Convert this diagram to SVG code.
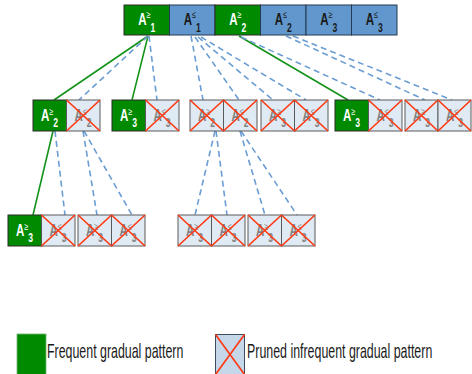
<svg xmlns="http://www.w3.org/2000/svg" width="472" height="374" viewBox="0 0 472 374">
<style>
.g{fill:#008a00;stroke:#2a2a2a;stroke-width:1}
.b{fill:#6197cc;stroke:#243a55;stroke-width:1}
.p{fill:#dfeaf4;stroke:#5a5a5a;stroke-width:1}
.x{stroke:#ff3b14;stroke-width:1.7;fill:none}
.lb{font-family:"Liberation Sans",Arial,sans-serif;font-weight:bold;font-size:16px;text-anchor:middle}
.sup{font-size:10px;font-weight:normal}
.sub{font-size:12px}
.w{fill:#ffffff}
.k{fill:#1a1a1a}
.q{fill:#828282}
.cg{stroke:#13931a;stroke-width:1.6;fill:none}
.cd{stroke:#6a9dd3;stroke-width:1.6;fill:none;stroke-dasharray:6 4}
.leg{font-family:"Liberation Sans",Arial,sans-serif;font-size:20px;fill:#1a1a1a}
</style>

<g id="connectors">
<line class="cg" x1="148" y1="36" x2="54" y2="100"/>
<line class="cg" x1="148" y1="36" x2="132" y2="100"/>
<line class="cg" x1="239" y1="36" x2="348" y2="100"/>
<line class="cg" x1="53" y1="131" x2="33" y2="215"/>
<line class="cd" x1="148" y1="36" x2="79" y2="100"/>
<line class="cd" x1="149" y1="36" x2="157" y2="100"/>
<line class="cd" x1="191" y1="36" x2="203" y2="100"/>
<line class="cd" x1="195" y1="37" x2="239" y2="100"/>
<line class="cd" x1="198" y1="37" x2="273" y2="100"/>
<line class="cd" x1="201" y1="37" x2="306" y2="100"/>
<line class="cd" x1="241" y1="37" x2="380" y2="100"/>
<line class="cd" x1="286" y1="36" x2="425" y2="100"/>
<line class="cd" x1="293" y1="36" x2="452" y2="100"/>
<line class="cd" x1="55" y1="131" x2="65" y2="215"/>
<line class="cd" x1="83" y1="131" x2="97" y2="215"/>
<line class="cd" x1="84" y1="131" x2="132" y2="215"/>
<line class="cd" x1="215" y1="131" x2="195" y2="215"/>
<line class="cd" x1="216" y1="131" x2="227" y2="215"/>
<line class="cd" x1="240" y1="131" x2="265" y2="215"/>
<line class="cd" x1="241" y1="131" x2="297" y2="215"/>
</g>

<!-- Top row -->
<g id="t1"><rect class="g" x="124" y="5" width="45.5" height="30"/><text class="lb w" transform="translate(146.8,5) scale(0.72,1)" y="20">A<tspan class="sup" dy="-6.5">≥</tspan><tspan class="sub" dy="13.5" font-size="13">1</tspan></text></g>
<g id="t2"><rect class="b" x="169.5" y="5" width="45.5" height="30"/><text class="lb k" transform="translate(192.3,5) scale(0.72,1)" y="20">A<tspan class="sup" dy="-6.5">≤</tspan><tspan class="sub" dy="13.5" font-size="13">1</tspan></text></g>
<g id="t3"><rect class="g" x="215" y="5" width="45.5" height="30"/><text class="lb w" transform="translate(237.8,5) scale(0.72,1)" y="20">A<tspan class="sup" dy="-6.5">≥</tspan><tspan class="sub" dy="13.5" font-size="13">2</tspan></text></g>
<g id="t4"><rect class="b" x="260.5" y="5" width="45.5" height="30"/><text class="lb k" transform="translate(283.3,5) scale(0.72,1)" y="20">A<tspan class="sup" dy="-6.5">≤</tspan><tspan class="sub" dy="13.5" font-size="13">2</tspan></text></g>
<g id="t5"><rect class="b" x="306" y="5" width="45.5" height="30"/><text class="lb k" transform="translate(328.8,5) scale(0.72,1)" y="20">A<tspan class="sup" dy="-6.5">≥</tspan><tspan class="sub" dy="13.5" font-size="13">3</tspan></text></g>
<g id="t6"><rect class="b" x="351.5" y="5" width="45.5" height="30"/><text class="lb k" transform="translate(374.3,5) scale(0.72,1)" y="20">A<tspan class="sup" dy="-6.5">≤</tspan><tspan class="sub" dy="13.5" font-size="13">3</tspan></text></g>

<!-- Level 2 -->
<g id="n2a"><rect class="g" x="33" y="100" width="33.5" height="31"/><text class="lb w" transform="translate(49.5,100) scale(0.72,1)" y="21.5">A<tspan class="sup" dy="-6.5">≥</tspan><tspan class="sub" dy="12.5">2</tspan></text></g>
<g id="n2b"><rect class="p" x="66.5" y="100" width="33.5" height="31"/><text class="lb q" transform="translate(83,100) scale(0.72,1)" y="21.5">A<tspan class="sup" dy="-6.5">≤</tspan><tspan class="sub" dy="12.5">2</tspan></text><path class="x" d="M66.5,100L100,131M100,100L66.5,131"/></g>
<g id="n2c"><rect class="g" x="112" y="100" width="33.5" height="31"/><text class="lb w" transform="translate(128.5,100) scale(0.72,1)" y="21.5">A<tspan class="sup" dy="-6.5">≥</tspan><tspan class="sub" dy="12.5">3</tspan></text></g>
<g id="n2d"><rect class="p" x="145.5" y="100" width="33.5" height="31"/><text class="lb q" transform="translate(162,100) scale(0.72,1)" y="21.5">A<tspan class="sup" dy="-6.5">≤</tspan><tspan class="sub" dy="12.5">3</tspan></text><path class="x" d="M145.5,100L179,131M179,100L145.5,131"/></g>
<g id="n2e"><rect class="p" x="190" y="100" width="33.5" height="31"/><text class="lb q" transform="translate(206.5,100) scale(0.72,1)" y="21.5">A<tspan class="sup" dy="-6.5">≥</tspan><tspan class="sub" dy="12.5">2</tspan></text><path class="x" d="M190,100L223.5,131M223.5,100L190,131"/></g>
<g id="n2f"><rect class="p" x="223.5" y="100" width="33.5" height="31"/><text class="lb q" transform="translate(240,100) scale(0.72,1)" y="21.5">A<tspan class="sup" dy="-6.5">≤</tspan><tspan class="sub" dy="12.5">2</tspan></text><path class="x" d="M223.5,100L257,131M257,100L223.5,131"/></g>
<g id="n2g"><rect class="p" x="261" y="100" width="33.5" height="31"/><text class="lb q" transform="translate(277.5,100) scale(0.72,1)" y="21.5">A<tspan class="sup" dy="-6.5">≥</tspan><tspan class="sub" dy="12.5">3</tspan></text><path class="x" d="M261,100L294.5,131M294.5,100L261,131"/></g>
<g id="n2h"><rect class="p" x="294.5" y="100" width="33.5" height="31"/><text class="lb q" transform="translate(311,100) scale(0.72,1)" y="21.5">A<tspan class="sup" dy="-6.5">≤</tspan><tspan class="sub" dy="12.5">3</tspan></text><path class="x" d="M294.5,100L328,131M328,100L294.5,131"/></g>
<g id="n2i"><rect class="g" x="335" y="100" width="33.5" height="31"/><text class="lb w" transform="translate(351.5,100) scale(0.72,1)" y="21.5">A<tspan class="sup" dy="-6.5">≥</tspan><tspan class="sub" dy="12.5">3</tspan></text></g>
<g id="n2j"><rect class="p" x="368.5" y="100" width="33.5" height="31"/><text class="lb q" transform="translate(385,100) scale(0.72,1)" y="21.5">A<tspan class="sup" dy="-6.5">≤</tspan><tspan class="sub" dy="12.5">3</tspan></text><path class="x" d="M368.5,100L402,131M402,100L368.5,131"/></g>
<g id="n2k"><rect class="p" x="405" y="100" width="33" height="31"/><text class="lb q" transform="translate(421.5,100) scale(0.72,1)" y="21.5">A<tspan class="sup" dy="-6.5">≥</tspan><tspan class="sub" dy="12.5">3</tspan></text><path class="x" d="M405,100L438,131M438,100L405,131"/></g>
<g id="n2l"><rect class="p" x="438" y="100" width="33" height="31"/><text class="lb q" transform="translate(454.5,100) scale(0.72,1)" y="21.5">A<tspan class="sup" dy="-6.5">≤</tspan><tspan class="sub" dy="12.5">3</tspan></text><path class="x" d="M438,100L471,131M471,100L438,131"/></g>

<!-- Level 3 -->
<g id="n3a"><rect class="g" x="8" y="215" width="33.5" height="31"/><text class="lb w" transform="translate(24.5,215) scale(0.72,1)" y="21.5">A<tspan class="sup" dy="-6.5">≥</tspan><tspan class="sub" dy="12.5">3</tspan></text></g>
<g id="n3b"><rect class="p" x="41.5" y="215" width="33.5" height="31"/><text class="lb q" transform="translate(58,215) scale(0.72,1)" y="21.5">A<tspan class="sup" dy="-6.5">≤</tspan><tspan class="sub" dy="12.5">3</tspan></text><path class="x" d="M41.5,215L75,246M75,215L41.5,246"/></g>
<g id="n3c"><rect class="p" x="78" y="215" width="33.5" height="31"/><text class="lb q" transform="translate(94.5,215) scale(0.72,1)" y="21.5">A<tspan class="sup" dy="-6.5">≥</tspan><tspan class="sub" dy="12.5">3</tspan></text><path class="x" d="M78,215L111.5,246M111.5,215L78,246"/></g>
<g id="n3d"><rect class="p" x="111.5" y="215" width="33.5" height="31"/><text class="lb q" transform="translate(128,215) scale(0.72,1)" y="21.5">A<tspan class="sup" dy="-6.5">≤</tspan><tspan class="sub" dy="12.5">3</tspan></text><path class="x" d="M111.5,215L145,246M145,215L111.5,246"/></g>
<g id="n3e"><rect class="p" x="178" y="215" width="33.5" height="31"/><text class="lb q" transform="translate(194.5,215) scale(0.72,1)" y="21.5">A<tspan class="sup" dy="-6.5">≥</tspan><tspan class="sub" dy="12.5">3</tspan></text><path class="x" d="M178,215L211.5,246M211.5,215L178,246"/></g>
<g id="n3f"><rect class="p" x="211.5" y="215" width="33.5" height="31"/><text class="lb q" transform="translate(228,215) scale(0.72,1)" y="21.5">A<tspan class="sup" dy="-6.5">≤</tspan><tspan class="sub" dy="12.5">3</tspan></text><path class="x" d="M211.5,215L245,246M245,215L211.5,246"/></g>
<g id="n3g"><rect class="p" x="248" y="215" width="33.5" height="31"/><text class="lb q" transform="translate(264.5,215) scale(0.72,1)" y="21.5">A<tspan class="sup" dy="-6.5">≥</tspan><tspan class="sub" dy="12.5">3</tspan></text><path class="x" d="M248,215L281.5,246M281.5,215L248,246"/></g>
<g id="n3h"><rect class="p" x="281.5" y="215" width="33.5" height="31"/><text class="lb q" transform="translate(298,215) scale(0.72,1)" y="21.5">A<tspan class="sup" dy="-6.5">≤</tspan><tspan class="sub" dy="12.5">3</tspan></text><path class="x" d="M281.5,215L315,246M315,215L281.5,246"/></g>

<!-- Legend -->
<g id="legend-frequent"><rect x="17" y="334" width="29" height="41" fill="#008a00" stroke="#6fb86f" stroke-width="0.8"/><text class="leg" transform="translate(47,358) scale(0.62,1)">Frequent gradual pattern</text></g>
<g id="legend-pruned"><rect x="215.5" y="334.5" width="29" height="40" fill="#c6d7ea" stroke="#3b4d5e" stroke-width="1"/><path class="x" d="M215.5,334.5L244.5,374.5M244.5,334.5L215.5,374.5"/><text class="leg" transform="translate(247,358) scale(0.62,1)">Pruned infrequent gradual pattern</text></g>
</svg>
